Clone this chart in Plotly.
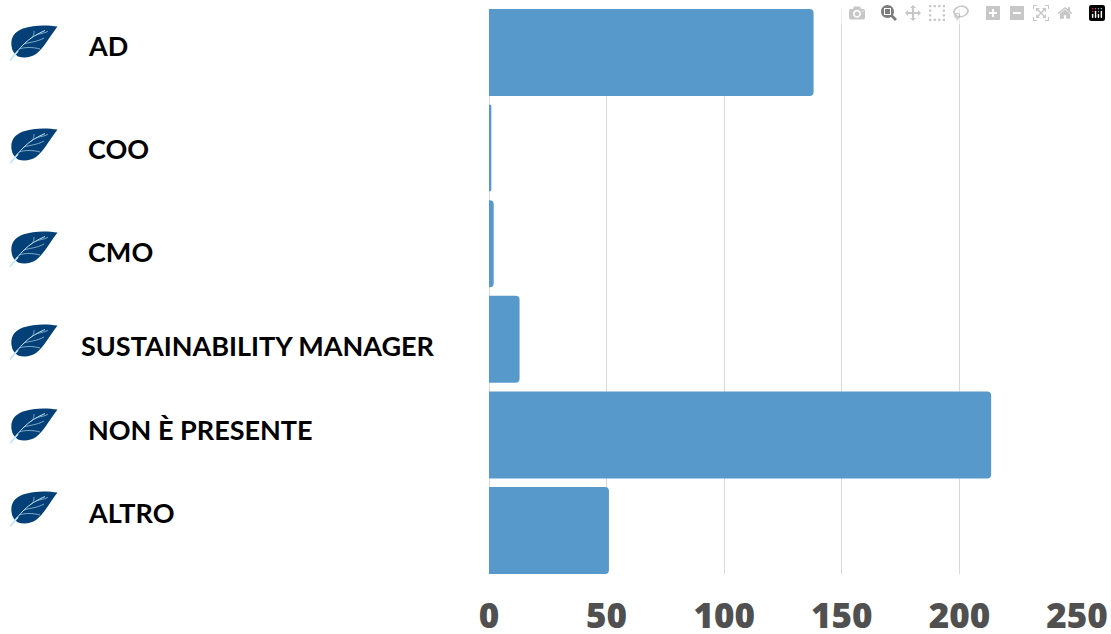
import base64
import plotly.graph_objects as go

categories = ["AD", "COO", "CMO", "SUSTAINABILITY MANAGER", "NON È PRESENTE", "ALTRO"]
values = [138, 1, 2, 13, 213.5, 51]
tick_values = [0, 50, 100, 150, 200, 250]

W, H = 1111, 634
L, R, T, B = 489, 34, 9, 60
PW, PH = W - L - R, H - T - B
label_left = [87, 87, 87, 80, 87, 87]
label_mid = [45, 148, 251, 345, 429, 512]
leaf_top = [25, 128, 231, 324, 408, 491]


def px(x):
    return (x - L) / PW


def py(y):
    return 1 - (y - T) / PH


LEAF = """<svg xmlns='http://www.w3.org/2000/svg' width='48' height='37' viewBox='0 0 48 37'>
<path d='M47.5 1.5 C38 0 24 -0.5 13 3.5 C4 7 0.5 13 1.5 21 C2 26 4.5 29 8 31.5 C14 33.5 21 32.5 26 29 C34 23 40 11 47.5 1.5 Z' fill='#024077'/>
<path d='M0 35.5 C5 29 9 24 14 19 C20 13 27 9 35 5.5' fill='none' stroke='#c3e6f5' stroke-width='1'/>
<path d='M0 35.5 L8 26' fill='none' stroke='#c3e6f5' stroke-width='1.6'/>
<path d='M9 24 C15 22 23 22 30 24 M14 19 C20 17 27 17 34 13 M21 13 C24 11 24 8 24 6 M26 10 C32 8 36 8 38 6' fill='none' stroke='#9fc4dc' stroke-width='0.8'/>
</svg>"""
leaf_uri = "data:image/svg+xml;base64," + base64.b64encode(LEAF.encode()).decode()

fig = go.Figure(
    go.Bar(y=categories, x=values, orientation="h", marker=dict(color="#5899CC", line_width=0))
)
fig.update_layout(
    width=W,
    height=H,
    margin=dict(l=L, r=R, t=T, b=B, autoexpand=False),
    paper_bgcolor="white",
    plot_bgcolor="white",
    showlegend=False,
    bargap=0.09,
    barcornerradius=4,
    xaxis=dict(
        range=[0, 250],
        tickvals=tick_values,
        showgrid=True,
        gridcolor="#d9d9d9",
        gridwidth=1,
        zeroline=True,
        zerolinecolor="#d9d9d9",
        zerolinewidth=1,
        showline=False,
        ticks="",
        ticklabelstandoff=18,
        tickfont=dict(family="Open Sans", size=35, color="#505050", weight=800),
    ),
    yaxis=dict(
        type="category",
        categoryorder="array",
        categoryarray=categories,
        range=[5.455, -0.455],
        showticklabels=False,
        showgrid=False,
        zeroline=False,
        ticks="",
    ),
    annotations=[
        dict(
            text=c,
            x=px(x),
            y=py(y),
            xref="paper",
            yref="paper",
            xanchor="left",
            yanchor="middle",
            showarrow=False,
            borderpad=0,
            font=dict(family="Lato", size=27, color="black", weight=700),
        )
        for c, x, y in zip(categories, label_left, label_mid)
    ],
    images=[
        dict(
            source=leaf_uri,
            xref="paper",
            yref="paper",
            x=px(10),
            y=py(t),
            sizex=48 / PW,
            sizey=37 / PH,
            xanchor="left",
            yanchor="top",
            sizing="stretch",
            layer="above",
        )
        for t in leaf_top
    ],
)
fig.write_html("out.html", post_script="document.body.style.margin='0';")
